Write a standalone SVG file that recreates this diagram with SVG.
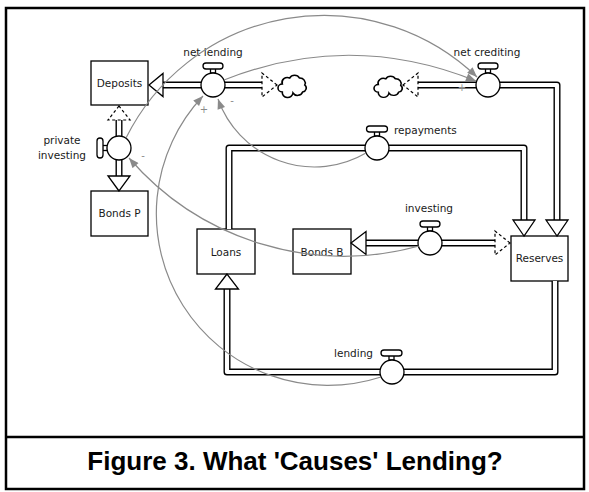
<svg xmlns="http://www.w3.org/2000/svg" width="589" height="492" viewBox="0 0 589 492">
<defs>
<style>
.frame{fill:none;stroke:#000;stroke-width:2.5}
.box{fill:#fff;stroke:#000;stroke-width:1.3}
.lbl{font-family:"DejaVu Sans","Liberation Sans",sans-serif;font-size:10.5px;fill:#1a1a1a}
.mid{text-anchor:middle}
.pipeO{fill:none;stroke:#000;stroke-width:7;stroke-linejoin:round}
.pipeI{fill:none;stroke:#fff;stroke-width:4.2;stroke-linejoin:round}
.head{fill:#fff;stroke:#000;stroke-width:1.3;stroke-linejoin:miter}
.dash{fill:#fff;stroke:#000;stroke-width:1.2;stroke-dasharray:3 2.5}
.valve{fill:#fff;stroke:#000;stroke-width:1.3}
.cloud{fill:#fff;stroke:#000;stroke-width:1.5}
.conn{fill:none;stroke:#8a8a8a;stroke-width:1.2;marker-end:url(#ah)}
.sign{font-family:"DejaVu Sans","Liberation Sans",sans-serif;font-size:10px;fill:#8a8a8a;text-anchor:middle}
.cap{font-family:"Liberation Sans",Arial,sans-serif;font-weight:bold;font-size:26px;fill:#000;text-anchor:middle}
</style>
<marker id="ah" viewBox="0 0 10 8" refX="10" refY="4" markerWidth="11" markerHeight="8" markerUnits="userSpaceOnUse" orient="auto">
<path d="M0,0 L10,4 L0,8 Z" fill="#8a8a8a"/>
</marker>
<path id="cloudShape" d="M4,17 a4,4 0 0 1 0,-8 a5,5 0 0 1 7,-6 a5,5 0 0 1 9,0 a5,5 0 0 1 5,7 a4,4 0 0 1 -2,7 a5,5 0 0 1 -9,1 a5,5 0 0 1 -10,-1 z"/>
</defs>

<rect class="frame" x="6" y="8" width="578" height="481"/>
<line x1="6" y1="437" x2="584" y2="437" stroke="#000" stroke-width="2.5"/>
<text class="cap" x="295" y="470">Figure 3. What 'Causes' Lending?</text>

<g id="stocks">
<g id="deposits"><rect class="box" x="91" y="61" width="57" height="44"/><text class="lbl mid" x="119.5" y="87">Deposits</text></g>
<g id="bonds-p"><rect class="box" x="91" y="191" width="57" height="45"/><text class="lbl mid" x="119.5" y="217">Bonds P</text></g>
<g id="loans"><rect class="box" x="197" y="229" width="58" height="45"/><text class="lbl mid" x="226" y="256">Loans</text></g>
<g id="bonds-b"><rect class="box" x="293" y="229" width="58" height="45"/><text class="lbl mid" x="322" y="256">Bonds B</text></g>
<g id="reserves"><rect class="box" x="511" y="236" width="57" height="45"/><text class="lbl mid" x="539.5" y="262">Reserves</text></g>
</g>

<g id="cloud-nl"><use href="#cloudShape" class="cloud" transform="translate(278,75) scale(1.07,1)"/></g>
<g id="cloud-nc"><use href="#cloudShape" class="cloud" transform="translate(374,76) scale(1.07,0.95)"/></g>

<g id="net-lending">
<path class="pipeO" d="M163,85 H262"/><path class="pipeI" d="M163,85 H262"/>
<polygon class="head" points="149,85 163,73.5 163,96.5"/>
<polygon class="dash" points="277,85 262,73 262,97"/>
<rect class="valve" x="210.5" y="68" width="5" height="5"/>
<rect class="valve" x="203" y="63" width="20" height="6" rx="3"/>
<circle class="valve" cx="213" cy="85" r="12"/>
<text class="lbl mid" x="213" y="56">net lending</text>
</g>

<g id="net-crediting">
<path class="pipeO" d="M418,85 H557 V220"/><path class="pipeI" d="M418,85 H557 V220"/>
<polygon class="dash" points="403,85 418,73 418,97"/>
<polygon class="head" points="557,236 546,220 568,220"/>
<rect class="valve" x="485.5" y="68" width="5" height="5"/>
<rect class="valve" x="478" y="63" width="20" height="6" rx="3"/>
<circle class="valve" cx="488" cy="85" r="12"/>
<text class="lbl mid" x="487" y="56">net crediting</text>
</g>

<g id="repayments">
<path class="pipeO" d="M229,229 V148 H524 V220"/><path class="pipeI" d="M229,229 V148 H524 V220"/>
<polygon class="head" points="524,236 513,220 535,220"/>
<rect class="valve" x="374.5" y="131" width="5" height="5"/>
<rect class="valve" x="366.5" y="126" width="21" height="6" rx="3"/>
<circle class="valve" cx="377" cy="148" r="12"/>
<text class="lbl" x="394" y="134">repayments</text>
</g>

<g id="investing">
<path class="pipeO" d="M366,243 H495"/><path class="pipeI" d="M366,243 H495"/>
<polygon class="head" points="351,243 366,231.5 366,254.5"/>
<polygon class="dash" points="510,243 495,231 495,255"/>
<rect class="valve" x="427.5" y="226" width="5" height="5"/>
<rect class="valve" x="420" y="221" width="20" height="6" rx="3"/>
<circle class="valve" cx="430" cy="243" r="12"/>
<text class="lbl mid" x="429" y="212">investing</text>
</g>

<g id="lending">
<path class="pipeO" d="M555,281 V372 H227 V289"/><path class="pipeI" d="M555,281 V372 H227 V289"/>
<polygon class="head" points="227,274 215.5,289 238.5,289"/>
<rect class="valve" x="389" y="355" width="5" height="5"/>
<rect class="valve" x="381" y="350" width="21" height="6" rx="3"/>
<circle class="valve" cx="392" cy="372" r="12"/>
<text class="lbl" x="373" y="357" text-anchor="end">lending</text>
</g>

<g id="private-investing">
<path class="pipeO" d="M119,120 V176"/><path class="pipeI" d="M119,120 V176"/>
<polygon class="dash" points="119,106 108,120 130,120"/>
<polygon class="head" points="119,191 108,176 130,176"/>
<rect class="valve" x="102.5" y="145.5" width="5" height="5"/>
<rect class="valve" x="97" y="138" width="6" height="20" rx="3"/>
<circle class="valve" cx="119" cy="148" r="12"/>
<text class="lbl mid" x="62" y="144">private</text>
<text class="lbl mid" x="62" y="159">investing</text>
</g>

<g id="connectors">
<path class="conn" d="M126,138 A221,221 0 0 1 477,77"/>
<path class="conn" d="M224,80 Q350,30 476,81"/>
<path class="conn" d="M381,377 A171.7,171.7 0 0 1 203,96"/>
<path class="conn" d="M366,153 A102.3,102.3 0 0 1 218,99"/>
<path class="conn" d="M419,246 A284,284 0 0 1 129,158"/>
<text class="sign" x="204" y="113">+</text>
<text class="sign" x="232" y="104">-</text>
<text class="sign" x="143" y="159">-</text>
<text class="sign" x="462" y="91">+</text>
</g>
</svg>
